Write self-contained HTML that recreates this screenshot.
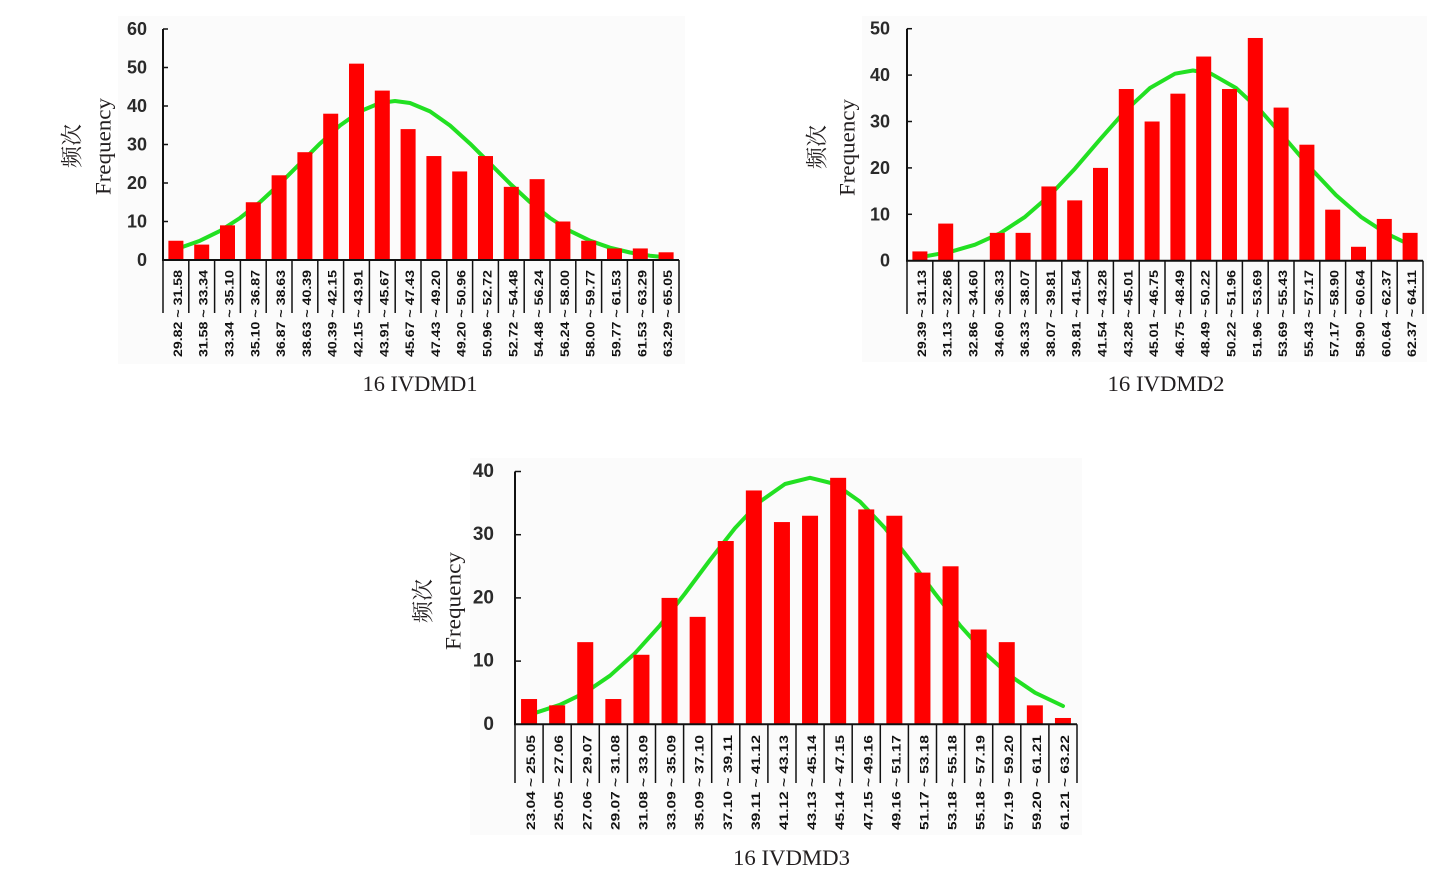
<!DOCTYPE html>
<html><head><meta charset="utf-8"><style>
html,body{margin:0;padding:0;background:#fff;}
svg{display:block;}
.yl{font-family:"Liberation Sans",sans-serif;font-weight:bold;font-size:18px;fill:#2a2a2a;}
.xl{font-family:"Liberation Sans",sans-serif;font-weight:bold;font-size:12px;fill:#111;}
.cn{font-family:"Liberation Serif","Noto Serif CJK SC",serif;font-size:22px;fill:#231f20;}
.en{font-family:"Liberation Serif",serif;font-size:22px;fill:#231f20;}
.bar{fill:#ff0000;}
.cv{fill:none;stroke:#22e022;stroke-width:4;stroke-linejoin:round;stroke-linecap:round;}
.ax{stroke:#111;stroke-width:2;fill:none;}
.dv{stroke:#111;stroke-width:1.5;}
</style></head><body>
<svg width="1447" height="877" viewBox="0 0 1447 877" xmlns="http://www.w3.org/2000/svg">
<!-- panels -->
<rect x="118" y="16" width="567" height="348" fill="#fbfbfb"/>
<rect x="862" y="16" width="565" height="346" fill="#fbfbfb"/>
<rect x="470" y="458" width="612" height="377" fill="#fbfbfb"/>

<!-- ============ CHART 1 ============ -->
<polyline class="cv" points="183,246.8 200,240.7 220,230.9 240,218 260,202.1 280,183.6 300,163.6 320,143.6 340,125.5 360,111.4 380,103 395,101 410,103 430,111.4 450,125.5 470,143.6 490,163.6 510,183.6 530,202.1 550,218 570,230.9 590,240.7 610,247.7 630,252.5 650,255.7 660,256.8"/>
<g class="bar">
<rect x="168.4" y="240.75" width="15" height="19.25"/>
<rect x="194.2" y="244.6" width="15" height="15.4"/>
<rect x="220.0" y="225.35" width="15" height="34.65"/>
<rect x="245.8" y="202.25" width="15" height="57.75"/>
<rect x="271.6" y="175.3" width="15" height="84.7"/>
<rect x="297.4" y="152.2" width="15" height="107.8"/>
<rect x="323.2" y="113.7" width="15" height="146.3"/>
<rect x="349.0" y="63.65" width="15" height="196.35"/>
<rect x="374.8" y="90.6" width="15" height="169.4"/>
<rect x="400.6" y="129.1" width="15" height="130.9"/>
<rect x="426.4" y="156.05" width="15" height="103.95"/>
<rect x="452.2" y="171.45" width="15" height="88.55"/>
<rect x="478.0" y="156.05" width="15" height="103.95"/>
<rect x="503.8" y="186.85" width="15" height="73.15"/>
<rect x="529.6" y="179.15" width="15" height="80.85"/>
<rect x="555.4" y="221.5" width="15" height="38.5"/>
<rect x="581.2" y="240.75" width="15" height="19.25"/>
<rect x="607.0" y="248.45" width="15" height="11.55"/>
<rect x="632.8" y="248.45" width="15" height="11.55"/>
<rect x="658.6" y="252.3" width="15" height="7.7"/>
</g>
<path class="ax" d="M163,29 V260 H679"/>
<g stroke="#111" stroke-width="1.5">
<line x1="163" y1="29" x2="168" y2="29"/><line x1="163" y1="67.5" x2="168" y2="67.5"/><line x1="163" y1="106" x2="168" y2="106"/><line x1="163" y1="144.5" x2="168" y2="144.5"/><line x1="163" y1="183" x2="168" y2="183"/><line x1="163" y1="221.5" x2="168" y2="221.5"/>
</g>
<g class="dv">
<line x1="163" y1="260" x2="163" y2="313"/><line x1="188.8" y1="260" x2="188.8" y2="313"/><line x1="214.6" y1="260" x2="214.6" y2="313"/><line x1="240.4" y1="260" x2="240.4" y2="313"/><line x1="266.2" y1="260" x2="266.2" y2="313"/><line x1="292" y1="260" x2="292" y2="313"/><line x1="317.8" y1="260" x2="317.8" y2="313"/><line x1="343.6" y1="260" x2="343.6" y2="313"/><line x1="369.4" y1="260" x2="369.4" y2="313"/><line x1="395.2" y1="260" x2="395.2" y2="313"/><line x1="421" y1="260" x2="421" y2="313"/><line x1="446.8" y1="260" x2="446.8" y2="313"/><line x1="472.6" y1="260" x2="472.6" y2="313"/><line x1="498.4" y1="260" x2="498.4" y2="313"/><line x1="524.2" y1="260" x2="524.2" y2="313"/><line x1="550" y1="260" x2="550" y2="313"/><line x1="575.8" y1="260" x2="575.8" y2="313"/><line x1="601.6" y1="260" x2="601.6" y2="313"/><line x1="627.4" y1="260" x2="627.4" y2="313"/><line x1="653.2" y1="260" x2="653.2" y2="313"/><line x1="679" y1="260" x2="679" y2="313"/>
</g>
<g class="yl" text-anchor="end" dominant-baseline="central">
<text x="147" y="29">60</text><text x="147" y="67.5">50</text><text x="147" y="106">40</text><text x="147" y="144.5">30</text><text x="147" y="183">20</text><text x="147" y="221.5">10</text><text x="147" y="260">0</text>
</g>
<g class="xl" text-anchor="middle" dominant-baseline="central">
<text transform="translate(177.9,313.5) rotate(-90)" textLength="87" lengthAdjust="spacingAndGlyphs">29.82 ~ 31.58</text>
<text transform="translate(203.7,313.5) rotate(-90)" textLength="87" lengthAdjust="spacingAndGlyphs">31.58 ~ 33.34</text>
<text transform="translate(229.5,313.5) rotate(-90)" textLength="87" lengthAdjust="spacingAndGlyphs">33.34 ~ 35.10</text>
<text transform="translate(255.3,313.5) rotate(-90)" textLength="87" lengthAdjust="spacingAndGlyphs">35.10 ~ 36.87</text>
<text transform="translate(281.1,313.5) rotate(-90)" textLength="87" lengthAdjust="spacingAndGlyphs">36.87 ~ 38.63</text>
<text transform="translate(306.9,313.5) rotate(-90)" textLength="87" lengthAdjust="spacingAndGlyphs">38.63 ~ 40.39</text>
<text transform="translate(332.7,313.5) rotate(-90)" textLength="87" lengthAdjust="spacingAndGlyphs">40.39 ~ 42.15</text>
<text transform="translate(358.5,313.5) rotate(-90)" textLength="87" lengthAdjust="spacingAndGlyphs">42.15 ~ 43.91</text>
<text transform="translate(384.3,313.5) rotate(-90)" textLength="87" lengthAdjust="spacingAndGlyphs">43.91 ~ 45.67</text>
<text transform="translate(410.1,313.5) rotate(-90)" textLength="87" lengthAdjust="spacingAndGlyphs">45.67 ~ 47.43</text>
<text transform="translate(435.9,313.5) rotate(-90)" textLength="87" lengthAdjust="spacingAndGlyphs">47.43 ~ 49.20</text>
<text transform="translate(461.7,313.5) rotate(-90)" textLength="87" lengthAdjust="spacingAndGlyphs">49.20 ~ 50.96</text>
<text transform="translate(487.5,313.5) rotate(-90)" textLength="87" lengthAdjust="spacingAndGlyphs">50.96 ~ 52.72</text>
<text transform="translate(513.3,313.5) rotate(-90)" textLength="87" lengthAdjust="spacingAndGlyphs">52.72 ~ 54.48</text>
<text transform="translate(539.1,313.5) rotate(-90)" textLength="87" lengthAdjust="spacingAndGlyphs">54.48 ~ 56.24</text>
<text transform="translate(564.9,313.5) rotate(-90)" textLength="87" lengthAdjust="spacingAndGlyphs">56.24 ~ 58.00</text>
<text transform="translate(590.7,313.5) rotate(-90)" textLength="87" lengthAdjust="spacingAndGlyphs">58.00 ~ 59.77</text>
<text transform="translate(616.5,313.5) rotate(-90)" textLength="87" lengthAdjust="spacingAndGlyphs">59.77 ~ 61.53</text>
<text transform="translate(642.3,313.5) rotate(-90)" textLength="87" lengthAdjust="spacingAndGlyphs">61.53 ~ 63.29</text>
<text transform="translate(668.1,313.5) rotate(-90)" textLength="87" lengthAdjust="spacingAndGlyphs">63.29 ~ 65.05</text>
</g>
<text class="cn" transform="translate(72,146) rotate(-90)" text-anchor="middle" dominant-baseline="central">频次</text>
<text class="en" transform="translate(103,146.5) rotate(-90)" text-anchor="middle" dominant-baseline="central" textLength="97" lengthAdjust="spacingAndGlyphs">Frequency</text>
<text class="en" x="420" y="391" text-anchor="middle" textLength="115" lengthAdjust="spacingAndGlyphs">16 IVDMD1</text>

<!-- ============ CHART 2 ============ -->
<polyline class="cv" points="928,255.8 950,251.9 975,244.7 1000,233.3 1025,216.9 1050,195.1 1075,168.6 1100,139.4 1125,111.2 1150,88 1175,73.7 1193,70.5 1211,73.7 1236,88 1261,111.2 1286,139.4 1311,168.6 1336,195.1 1361,216.9 1386,233.3 1403,241.5"/>
<g class="bar">
<rect x="912.4" y="251.42" width="15" height="9.28"/>
<rect x="938.2" y="223.58" width="15" height="37.12"/>
<rect x="989.8" y="232.86" width="15" height="27.84"/>
<rect x="1015.6" y="232.86" width="15" height="27.84"/>
<rect x="1041.4" y="186.46" width="15" height="74.24"/>
<rect x="1067.2" y="200.38" width="15" height="60.32"/>
<rect x="1093.0" y="167.9" width="15" height="92.8"/>
<rect x="1118.8" y="89.02" width="15" height="171.68"/>
<rect x="1144.6" y="121.5" width="15" height="139.2"/>
<rect x="1170.4" y="93.66" width="15" height="167.04"/>
<rect x="1196.2" y="56.54" width="15" height="204.16"/>
<rect x="1222.0" y="89.02" width="15" height="171.68"/>
<rect x="1247.8" y="37.98" width="15" height="222.72"/>
<rect x="1273.6" y="107.58" width="15" height="153.12"/>
<rect x="1299.4" y="144.7" width="15" height="116"/>
<rect x="1325.2" y="209.66" width="15" height="51.04"/>
<rect x="1351.0" y="246.78" width="15" height="13.92"/>
<rect x="1376.8" y="218.94" width="15" height="41.76"/>
<rect x="1402.6" y="232.86" width="15" height="27.84"/>
</g>
<path class="ax" d="M907,28.7 V260.7 H1423"/>
<g stroke="#111" stroke-width="1.5">
<line x1="907" y1="28.7" x2="912" y2="28.7"/><line x1="907" y1="75.1" x2="912" y2="75.1"/><line x1="907" y1="121.5" x2="912" y2="121.5"/><line x1="907" y1="167.9" x2="912" y2="167.9"/><line x1="907" y1="214.3" x2="912" y2="214.3"/>
</g>
<g class="dv">
<line x1="907" y1="260.7" x2="907" y2="314"/><line x1="932.8" y1="260.7" x2="932.8" y2="314"/><line x1="958.6" y1="260.7" x2="958.6" y2="314"/><line x1="984.4" y1="260.7" x2="984.4" y2="314"/><line x1="1010.2" y1="260.7" x2="1010.2" y2="314"/><line x1="1036" y1="260.7" x2="1036" y2="314"/><line x1="1061.8" y1="260.7" x2="1061.8" y2="314"/><line x1="1087.6" y1="260.7" x2="1087.6" y2="314"/><line x1="1113.4" y1="260.7" x2="1113.4" y2="314"/><line x1="1139.2" y1="260.7" x2="1139.2" y2="314"/><line x1="1165" y1="260.7" x2="1165" y2="314"/><line x1="1190.8" y1="260.7" x2="1190.8" y2="314"/><line x1="1216.6" y1="260.7" x2="1216.6" y2="314"/><line x1="1242.4" y1="260.7" x2="1242.4" y2="314"/><line x1="1268.2" y1="260.7" x2="1268.2" y2="314"/><line x1="1294" y1="260.7" x2="1294" y2="314"/><line x1="1319.8" y1="260.7" x2="1319.8" y2="314"/><line x1="1345.6" y1="260.7" x2="1345.6" y2="314"/><line x1="1371.4" y1="260.7" x2="1371.4" y2="314"/><line x1="1397.2" y1="260.7" x2="1397.2" y2="314"/><line x1="1423" y1="260.7" x2="1423" y2="314"/>
</g>
<g class="yl" text-anchor="end" dominant-baseline="central">
<text x="890" y="28.7">50</text><text x="890" y="75.1">40</text><text x="890" y="121.5">30</text><text x="890" y="167.9">20</text><text x="890" y="214.3">10</text><text x="890" y="260.7">0</text>
</g>
<g class="xl" text-anchor="middle" dominant-baseline="central">
<text transform="translate(921.9,313.5) rotate(-90)" textLength="87" lengthAdjust="spacingAndGlyphs">29.39 ~ 31.13</text>
<text transform="translate(947.7,313.5) rotate(-90)" textLength="87" lengthAdjust="spacingAndGlyphs">31.13 ~ 32.86</text>
<text transform="translate(973.5,313.5) rotate(-90)" textLength="87" lengthAdjust="spacingAndGlyphs">32.86 ~ 34.60</text>
<text transform="translate(999.3,313.5) rotate(-90)" textLength="87" lengthAdjust="spacingAndGlyphs">34.60 ~ 36.33</text>
<text transform="translate(1025.1,313.5) rotate(-90)" textLength="87" lengthAdjust="spacingAndGlyphs">36.33 ~ 38.07</text>
<text transform="translate(1050.9,313.5) rotate(-90)" textLength="87" lengthAdjust="spacingAndGlyphs">38.07 ~ 39.81</text>
<text transform="translate(1076.7,313.5) rotate(-90)" textLength="87" lengthAdjust="spacingAndGlyphs">39.81 ~ 41.54</text>
<text transform="translate(1102.5,313.5) rotate(-90)" textLength="87" lengthAdjust="spacingAndGlyphs">41.54 ~ 43.28</text>
<text transform="translate(1128.3,313.5) rotate(-90)" textLength="87" lengthAdjust="spacingAndGlyphs">43.28 ~ 45.01</text>
<text transform="translate(1154.1,313.5) rotate(-90)" textLength="87" lengthAdjust="spacingAndGlyphs">45.01 ~ 46.75</text>
<text transform="translate(1179.9,313.5) rotate(-90)" textLength="87" lengthAdjust="spacingAndGlyphs">46.75 ~ 48.49</text>
<text transform="translate(1205.7,313.5) rotate(-90)" textLength="87" lengthAdjust="spacingAndGlyphs">48.49 ~ 50.22</text>
<text transform="translate(1231.5,313.5) rotate(-90)" textLength="87" lengthAdjust="spacingAndGlyphs">50.22 ~ 51.96</text>
<text transform="translate(1257.3,313.5) rotate(-90)" textLength="87" lengthAdjust="spacingAndGlyphs">51.96 ~ 53.69</text>
<text transform="translate(1283.1,313.5) rotate(-90)" textLength="87" lengthAdjust="spacingAndGlyphs">53.69 ~ 55.43</text>
<text transform="translate(1308.9,313.5) rotate(-90)" textLength="87" lengthAdjust="spacingAndGlyphs">55.43 ~ 57.17</text>
<text transform="translate(1334.7,313.5) rotate(-90)" textLength="87" lengthAdjust="spacingAndGlyphs">57.17 ~ 58.90</text>
<text transform="translate(1360.5,313.5) rotate(-90)" textLength="87" lengthAdjust="spacingAndGlyphs">58.90 ~ 60.64</text>
<text transform="translate(1386.3,313.5) rotate(-90)" textLength="87" lengthAdjust="spacingAndGlyphs">60.64 ~ 62.37</text>
<text transform="translate(1412.1,313.5) rotate(-90)" textLength="87" lengthAdjust="spacingAndGlyphs">62.37 ~ 64.11</text>
</g>
<text class="cn" transform="translate(817,147) rotate(-90)" text-anchor="middle" dominant-baseline="central">频次</text>
<text class="en" transform="translate(847,147.5) rotate(-90)" text-anchor="middle" dominant-baseline="central" textLength="97" lengthAdjust="spacingAndGlyphs">Frequency</text>
<text class="en" x="1166" y="391" text-anchor="middle" textLength="117" lengthAdjust="spacingAndGlyphs">16 IVDMD2</text>

<!-- ============ CHART 3 ============ -->
<polyline class="cv" points="537,712.3 560,704.8 585,692.7 610,675.7 635,653.2 660,625.4 685,593.5 710,560 735,528.1 760,501.6 785,484 810,477.8 835,484 860,501.6 885,528.1 910,560 935,593.5 960,625.4 985,653.2 1010,675.7 1035,692.7 1063,706"/>
<g class="bar">
<rect x="521.05" y="699.02" width="16" height="25.28"/>
<rect x="549.15" y="705.34" width="16" height="18.96"/>
<rect x="577.25" y="642.14" width="16" height="82.16"/>
<rect x="605.35" y="699.02" width="16" height="25.28"/>
<rect x="633.45" y="654.78" width="16" height="69.52"/>
<rect x="661.55" y="597.9" width="16" height="126.4"/>
<rect x="689.65" y="616.86" width="16" height="107.44"/>
<rect x="717.75" y="541.02" width="16" height="183.28"/>
<rect x="745.85" y="490.46" width="16" height="233.84"/>
<rect x="773.95" y="522.06" width="16" height="202.24"/>
<rect x="802.05" y="515.74" width="16" height="208.56"/>
<rect x="830.15" y="477.82" width="16" height="246.48"/>
<rect x="858.25" y="509.42" width="16" height="214.88"/>
<rect x="886.35" y="515.74" width="16" height="208.56"/>
<rect x="914.45" y="572.62" width="16" height="151.68"/>
<rect x="942.55" y="566.3" width="16" height="158"/>
<rect x="970.65" y="629.5" width="16" height="94.8"/>
<rect x="998.75" y="642.14" width="16" height="82.16"/>
<rect x="1026.85" y="705.34" width="16" height="18.96"/>
<rect x="1054.95" y="717.98" width="16" height="6.32"/>
</g>
<path class="ax" d="M515,471.5 V724.3 H1077"/>
<g stroke="#111" stroke-width="1.5">
<line x1="515" y1="471.5" x2="521" y2="471.5"/><line x1="515" y1="534.7" x2="521" y2="534.7"/><line x1="515" y1="597.9" x2="521" y2="597.9"/><line x1="515" y1="661.1" x2="521" y2="661.1"/>
</g>
<g class="dv">
<line x1="515" y1="724.3" x2="515" y2="783"/><line x1="543.1" y1="724.3" x2="543.1" y2="783"/><line x1="571.2" y1="724.3" x2="571.2" y2="783"/><line x1="599.3" y1="724.3" x2="599.3" y2="783"/><line x1="627.4" y1="724.3" x2="627.4" y2="783"/><line x1="655.5" y1="724.3" x2="655.5" y2="783"/><line x1="683.6" y1="724.3" x2="683.6" y2="783"/><line x1="711.7" y1="724.3" x2="711.7" y2="783"/><line x1="739.8" y1="724.3" x2="739.8" y2="783"/><line x1="767.9" y1="724.3" x2="767.9" y2="783"/><line x1="796" y1="724.3" x2="796" y2="783"/><line x1="824.1" y1="724.3" x2="824.1" y2="783"/><line x1="852.2" y1="724.3" x2="852.2" y2="783"/><line x1="880.3" y1="724.3" x2="880.3" y2="783"/><line x1="908.4" y1="724.3" x2="908.4" y2="783"/><line x1="936.5" y1="724.3" x2="936.5" y2="783"/><line x1="964.6" y1="724.3" x2="964.6" y2="783"/><line x1="992.7" y1="724.3" x2="992.7" y2="783"/><line x1="1020.8" y1="724.3" x2="1020.8" y2="783"/><line x1="1048.9" y1="724.3" x2="1048.9" y2="783"/><line x1="1077" y1="724.3" x2="1077" y2="783"/>
</g>
<g class="yl" text-anchor="end" dominant-baseline="central" style="font-size:19px">
<text x="494" y="471.5">40</text><text x="494" y="534.7">30</text><text x="494" y="597.9">20</text><text x="494" y="661.1">10</text><text x="494" y="724.3">0</text>
</g>
<g class="xl" text-anchor="middle" dominant-baseline="central">
<text transform="translate(531.05,782.5) rotate(-90)" textLength="95" lengthAdjust="spacingAndGlyphs">23.04 ~ 25.05</text>
<text transform="translate(559.15,782.5) rotate(-90)" textLength="95" lengthAdjust="spacingAndGlyphs">25.05 ~ 27.06</text>
<text transform="translate(587.25,782.5) rotate(-90)" textLength="95" lengthAdjust="spacingAndGlyphs">27.06 ~ 29.07</text>
<text transform="translate(615.35,782.5) rotate(-90)" textLength="95" lengthAdjust="spacingAndGlyphs">29.07 ~ 31.08</text>
<text transform="translate(643.45,782.5) rotate(-90)" textLength="95" lengthAdjust="spacingAndGlyphs">31.08 ~ 33.09</text>
<text transform="translate(671.55,782.5) rotate(-90)" textLength="95" lengthAdjust="spacingAndGlyphs">33.09 ~ 35.09</text>
<text transform="translate(699.65,782.5) rotate(-90)" textLength="95" lengthAdjust="spacingAndGlyphs">35.09 ~ 37.10</text>
<text transform="translate(727.75,782.5) rotate(-90)" textLength="95" lengthAdjust="spacingAndGlyphs">37.10 ~ 39.11</text>
<text transform="translate(755.85,782.5) rotate(-90)" textLength="95" lengthAdjust="spacingAndGlyphs">39.11 ~ 41.12</text>
<text transform="translate(783.95,782.5) rotate(-90)" textLength="95" lengthAdjust="spacingAndGlyphs">41.12 ~ 43.13</text>
<text transform="translate(812.05,782.5) rotate(-90)" textLength="95" lengthAdjust="spacingAndGlyphs">43.13 ~ 45.14</text>
<text transform="translate(840.15,782.5) rotate(-90)" textLength="95" lengthAdjust="spacingAndGlyphs">45.14 ~ 47.15</text>
<text transform="translate(868.25,782.5) rotate(-90)" textLength="95" lengthAdjust="spacingAndGlyphs">47.15 ~ 49.16</text>
<text transform="translate(896.35,782.5) rotate(-90)" textLength="95" lengthAdjust="spacingAndGlyphs">49.16 ~ 51.17</text>
<text transform="translate(924.45,782.5) rotate(-90)" textLength="95" lengthAdjust="spacingAndGlyphs">51.17 ~ 53.18</text>
<text transform="translate(952.55,782.5) rotate(-90)" textLength="95" lengthAdjust="spacingAndGlyphs">53.18 ~ 55.18</text>
<text transform="translate(980.65,782.5) rotate(-90)" textLength="95" lengthAdjust="spacingAndGlyphs">55.18 ~ 57.19</text>
<text transform="translate(1008.75,782.5) rotate(-90)" textLength="95" lengthAdjust="spacingAndGlyphs">57.19 ~ 59.20</text>
<text transform="translate(1036.85,782.5) rotate(-90)" textLength="95" lengthAdjust="spacingAndGlyphs">59.20 ~ 61.21</text>
<text transform="translate(1064.95,782.5) rotate(-90)" textLength="95" lengthAdjust="spacingAndGlyphs">61.21 ~ 63.22</text>
</g>
<text class="cn" transform="translate(423,601) rotate(-90)" text-anchor="middle" dominant-baseline="central">频次</text>
<text class="en" transform="translate(453,601) rotate(-90)" text-anchor="middle" dominant-baseline="central" textLength="98" lengthAdjust="spacingAndGlyphs">Frequency</text>
<text class="en" x="791.5" y="865" text-anchor="middle" textLength="117" lengthAdjust="spacingAndGlyphs">16 IVDMD3</text>
</svg>
</body></html>
